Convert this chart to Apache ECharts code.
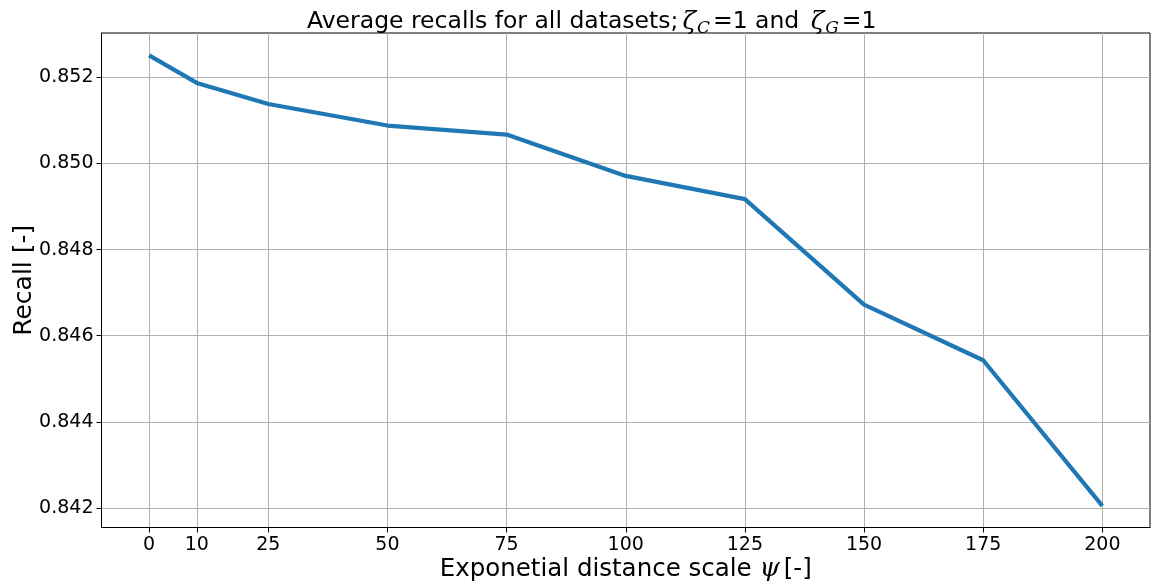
<!DOCTYPE html>
<html>
<head>
<meta charset="utf-8">
<script src="https://cdn.jsdelivr.net/npm/echarts@6/dist/echarts.min.js"></script>
<style>
  html, body { margin: 0; padding: 0; background: #fff; }
  #main { width: 1151px; height: 587px; }
</style>
</head>
<body>
<div id="main"></div>
<script>
var scales = [0, 10, 25, 50, 75, 100, 125, 150, 175, 200];
var recalls = [0.85251, 0.85187, 0.85138, 0.85088, 0.85067, 0.84971, 0.84917, 0.84672, 0.84543, 0.84205];
var yTicks = [0.842, 0.844, 0.846, 0.848, 0.850, 0.852];

var chart = echarts.init(document.getElementById('main'));
var font = 'DejaVu Sans';

var option = {
    animation: false,
    title: {
        text: '{n|Average recalls for all datasets;}{z|ζ}{s|C}{n|=1 and }{z|ζ}{s|G}{n|=1}',
        left: 302,
        top: 2,
        textStyle: {
            fontWeight: 'normal',
            rich: {
                n: { fontFamily: font, fontSize: 23.5, fontWeight: 'normal', color: '#000', lineHeight: 30 },
                z: { fontFamily: 'DejaVu Serif', fontStyle: 'italic', fontWeight: 'normal', fontSize: 25, color: '#000', padding: [0, 1, 0, 4] },
                s: { fontFamily: 'DejaVu Serif', fontStyle: 'italic', fontWeight: 'normal', fontSize: 17, color: '#000', verticalAlign: 'bottom', padding: [10, 3, 0, 0] }
            }
        }
    },
    grid: {
        left: 101.5,
        right: 1,
        top: 33,
        bottom: 59.5,
        outerBoundsMode: 'none',
        containLabel: false,
        show: true,
        borderColor: '#000',
        borderWidth: 1,
        backgroundColor: '#fff'
    },
    xAxis: {
        type: 'value',
        min: -10,
        max: 210,
        name: '{a|Exponetial distance scale }{m|ψ}{a|[-]}',
        nameLocation: 'middle',
        nameGap: 29,
        nameMoveOverlap: false,
        nameTextStyle: {
            rich: {
                a: { fontFamily: font, fontSize: 24.5, color: '#000' },
                m: { fontFamily: 'DejaVu Serif', fontStyle: 'italic', fontSize: 26, color: '#000', padding: [0, 4, 0, 0] }
            }
        },
        axisLine: { show: true, onZero: false, lineStyle: { color: '#000', width: 1 } },
        axisTick: { show: true, length: 5, lineStyle: { color: '#000' }, customValues: scales },
        axisLabel: { color: '#000', fontFamily: font, fontSize: 19, margin: 8, customValues: scales },
        splitLine: { show: true, lineStyle: { color: '#b0b0b0', width: 1 } }
    },
    yAxis: {
        type: 'value',
        min: 0.841546,
        max: 0.853029,
        name: 'Recall [-]',
        nameLocation: 'middle',
        nameGap: 65,
        nameMoveOverlap: false,
        nameTextStyle: { fontFamily: font, fontSize: 25, color: '#000' },
        axisLine: { show: true, onZero: false, lineStyle: { color: '#000', width: 1 } },
        axisTick: { show: true, length: 5, lineStyle: { color: '#000' }, customValues: yTicks },
        axisLabel: {
            color: '#000', fontFamily: font, fontSize: 19, margin: 8, customValues: yTicks,
            formatter: function (v) { return v.toFixed(3); }
        },
        splitLine: { show: true, lineStyle: { color: '#b0b0b0', width: 1 } }
    },
    series: [{
        type: 'line',
        data: scales.map(function (s, i) { return [s, recalls[i]]; }),
        symbol: 'none',
        lineStyle: { color: '#1f77b4', width: 4.2 },
        itemStyle: { color: '#1f77b4' }
    }]
};

chart.setOption(option);
</script>
</body>
</html>
